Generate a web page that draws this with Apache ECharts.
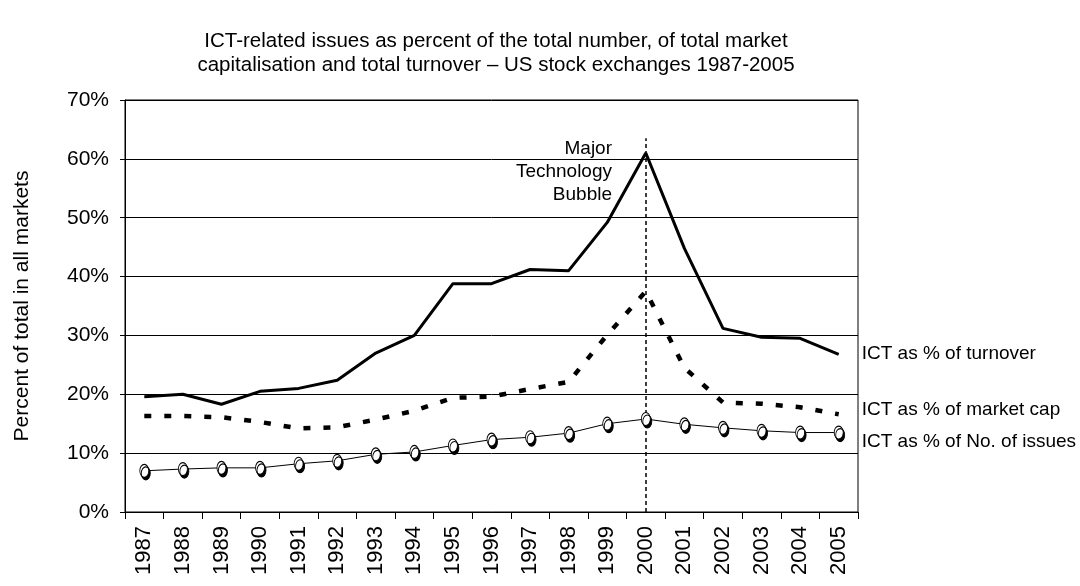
<!DOCTYPE html>
<html>
<head>
<meta charset="utf-8">
<script src="https://cdn.jsdelivr.net/npm/echarts@6/dist/echarts.min.js"></script>
<style>
  html, body { margin: 0; padding: 0; background: #fff; }
  #main { width: 1080px; height: 586px; }
</style>
</head>
<body>
<div id="main"></div>
<script>
// 1987-2005 years
var years = ['1987', '1988', '1989', '1990', '1991', '1992', '1993', '1994', '1995', '1996',
             '1997', '1998', '1999', '2000', '2001', '2002', '2003', '2004', '2005'];

// ICT share (%)
var turnover = [19.6, 20.0, 18.3, 20.5, 21.0, 22.4, 27.0, 30.0, 38.8, 38.8,
                41.2, 41.0, 49.2, 61.0, 44.8, 31.2, 29.7, 29.5, 26.8];
var marketCap = [16.3, 16.3, 16.1, 15.3, 14.2, 14.4, 15.7, 17.2, 19.4, 19.6,
                 20.9, 22.1, 30.1, 37.5, 24.5, 18.6, 18.4, 17.8, 16.6];
var issues = [7.0, 7.3, 7.5, 7.5, 8.2, 8.7, 9.8, 10.2, 11.3, 12.3,
              12.7, 13.4, 15.0, 15.8, 14.9, 14.3, 13.8, 13.5, 13.5];

var yTicks = [0, 10, 20, 30, 40, 50, 60, 70];

var FONT = "'Liberation Sans Narrow', 'Arial Narrow', 'Liberation Sans', Arial, sans-serif";

var chart = echarts.init(document.getElementById('main'));

var option = {
  backgroundColor: '#ffffff',
  animation: false,
  textStyle: { fontFamily: FONT, color: '#000' },
  title: {
    text: 'ICT-related issues as percent of the total number, of total market\ncapitalisation and total turnover \u2013 US stock exchanges 1987-2005',
    left: 491,
    top: 24,
    textAlign: 'center',
    textStyle: { fontFamily: FONT, fontSize: 20.5, fontWeight: 'normal', color: '#000', lineHeight: 24 }
  },
  grid: {
    left: 125, right: 222, top: 100, bottom: 74,
    show: true, borderColor: '#000', borderWidth: 1
  },
  xAxis: {
    type: 'category',
    data: years,
    boundaryGap: true,
    axisLine: { lineStyle: { color: '#000', width: 1 } },
    axisTick: { show: true, alignWithLabel: false, length: 7, lineStyle: { color: '#000' } },
    axisLabel: { rotate: 90, fontFamily: FONT, fontSize: 22, color: '#000', margin: 14, interval: 0 },
    splitLine: { show: false }
  },
  yAxis: {
    type: 'value',
    min: yTicks[0],
    max: yTicks[yTicks.length - 1],
    interval: 10,
    name: 'Percent of total in all markets',
    nameLocation: 'middle',
    nameGap: 92,
    nameTextStyle: { fontFamily: FONT, fontSize: 21, color: '#000' },
    axisLine: { show: true, lineStyle: { color: '#000', width: 1 } },
    axisTick: { show: true, length: 5, lineStyle: { color: '#000' } },
    axisLabel: { formatter: '{value}%', fontFamily: FONT, fontSize: 21, color: '#000', margin: 16 },
    splitLine: { show: true, lineStyle: { color: '#000', width: 1 } }
  },
  series: [
    {
      name: 'ICT as % of turnover',
      type: 'line',
      data: turnover,
      symbol: 'none',
      lineStyle: { color: '#000', width: 3 },
      z: 5,
      endLabel: {
        show: true, formatter: '{a}', fontFamily: FONT, fontSize: 19, color: '#000',
        offset: [15, 0]
      },
      markLine: {
        silent: true,
        symbol: 'none',
        lineStyle: { color: '#000', type: [4, 3], width: 1.5 },
        label: { show: false },
        data: [[{ coord: ['2000', 0] }, { coord: ['2000', 63.5] }]]
      }
    },
    {
      name: 'ICT as % of market cap',
      type: 'line',
      data: marketCap,
      symbol: 'none',
      lineStyle: { color: '#000', width: 4.5, type: [7, 13] },
      z: 4,
      endLabel: {
        show: true, formatter: '{a}', fontFamily: FONT, fontSize: 19, color: '#000',
        offset: [15, -5]
      }
    },
    {
      name: 'ICT as % of No. of issues',
      type: 'line',
      data: issues,
      symbol: 'circle',
      symbolSize: [9, 13],
      showAllSymbol: true,
      lineStyle: { color: '#000', width: 1 },
      itemStyle: {
        color: '#fff', borderColor: '#000', borderWidth: 1,
        shadowColor: '#000', shadowBlur: 0, shadowOffsetX: 1.5, shadowOffsetY: 2.5
      },
      z: 6,
      endLabel: {
        show: true, formatter: '{a}', fontFamily: FONT, fontSize: 19, color: '#000',
        offset: [15, 9]
      }
    }
  ],
  graphic: [
    {
      type: 'text',
      x: 612,
      y: 137,
      style: {
        text: 'Major\nTechnology\nBubble',
        font: '19px ' + FONT,
        fill: '#000',
        align: 'right',
        lineHeight: 23
      }
    }
  ]
};

chart.setOption(option);
</script>
</body>
</html>
